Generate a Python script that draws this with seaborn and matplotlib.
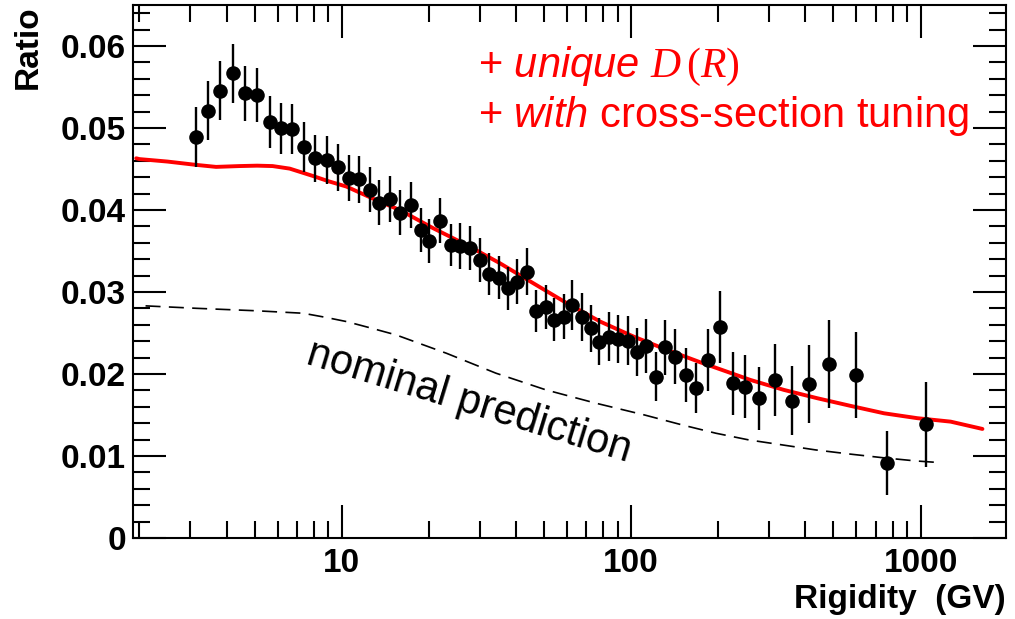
import numpy as np
import pandas as pd
import matplotlib
matplotlib.use('Agg')
import matplotlib.pyplot as plt
import seaborn as sns
from matplotlib.ticker import FixedLocator, NullFormatter, LogLocator, MultipleLocator

# measured data points (rigidity in GV, ratio, symmetric error)
rigidity = [3.13, 3.46, 3.80, 4.21, 4.62, 5.10, 5.63, 6.18, 6.75, 7.39,
            8.11, 8.92, 9.68, 10.57, 11.5, 12.56, 13.45, 14.66, 15.86, 17.3,
            18.76, 20.0, 21.9, 23.8, 25.6, 27.7, 30.0, 32.3, 34.9, 37.6,
            40.4, 43.7, 46.9, 50.7, 54.2, 58.4, 62.7, 67.7, 72.7, 77.7,
            83.9, 90.1, 97.4, 104.7, 112.7, 121.7, 131.2, 141.3, 154.6, 167,
            184, 203, 224, 248, 277, 313, 358, 411, 484, 596,
            767, 1040]
ratio = [0.04887, 0.0521, 0.05455, 0.05667, 0.05423, 0.05399, 0.05073, 0.04996, 0.04988, 0.04772,
         0.0463, 0.0461, 0.0452, 0.0439, 0.04374, 0.04244, 0.0409, 0.04134, 0.03967, 0.04057,
         0.03756, 0.03622, 0.0387, 0.03573, 0.03561, 0.03533, 0.0339, 0.0322, 0.03175, 0.03045,
         0.03126, 0.03244, 0.02768, 0.02821, 0.02659, 0.02699, 0.02841, 0.02691, 0.02557, 0.02394,
         0.02455, 0.02423, 0.02406, 0.02264, 0.02341, 0.01967, 0.02326, 0.02211, 0.01988, 0.01833,
         0.02171, 0.0257, 0.01886, 0.01846, 0.01703, 0.01927, 0.01675, 0.01874, 0.02118, 0.01988,
         0.00911, 0.01387]
ratio_err = [0.00366, 0.00362, 0.00356, 0.00358, 0.00333, 0.00331, 0.00313, 0.00313, 0.00307, 0.00305,
             0.00289, 0.00293, 0.00289, 0.00278, 0.00285, 0.00274, 0.00274, 0.00285, 0.00278, 0.00283,
             0.0027, 0.00264, 0.00278, 0.0026, 0.00278, 0.0027, 0.00268, 0.0026, 0.00258, 0.00264,
             0.00274, 0.00287, 0.00258, 0.00268, 0.00262, 0.0027, 0.003, 0.0029, 0.00289, 0.0029,
             0.003, 0.00295, 0.003, 0.00295, 0.00325, 0.003, 0.00335, 0.00337, 0.00329, 0.00305,
             0.00376, 0.00437, 0.00382, 0.0038, 0.00382, 0.00441, 0.00421, 0.00478, 0.00535, 0.00526,
             0.00388, 0.00518]

# tuned model (red)
tuned_r = [1.95, 2.0, 2.5, 3.13, 3.68, 4.43, 5.1, 5.77, 6.61, 7.94, 9.0, 10.38, 13.52, 15.86, 20.7,
           27.0, 35.2, 45.9, 60.0, 78.2, 102, 133, 173, 198, 258, 337, 439, 573, 747, 975, 1270, 1635]
tuned_ratio = [0.0463, 0.0462, 0.0459, 0.0455, 0.04525, 0.04535, 0.0454, 0.04535, 0.04504, 0.04415,
               0.0435, 0.04285, 0.04101, 0.0400, 0.03777, 0.03573, 0.0335, 0.03106, 0.02862, 0.02638,
               0.02455, 0.02293, 0.02143, 0.0207, 0.01927, 0.01805, 0.01704, 0.0161, 0.0152, 0.0146,
               0.01418, 0.01329]

# nominal prediction (dashed)
nominal_r = [2.1, 3.16, 5.08, 7.36, 8.8, 10.4, 12.6, 15.4, 23.0, 34.1, 50.8, 75.5, 111, 150, 196,
             255, 333, 434, 565, 736, 960, 1170]
nominal_ratio = [0.0283, 0.0280, 0.0277, 0.0274, 0.0269, 0.02638, 0.0256, 0.02476, 0.02252, 0.02009,
                 0.01805, 0.01643, 0.0150, 0.01378, 0.01277, 0.01195, 0.01134, 0.01073, 0.01024,
                 0.00979, 0.00939, 0.00918]

x_major = [10, 100, 1000]
x_labels = ['10', '100', '1000']
y_major = [0, 0.01, 0.02, 0.03, 0.04, 0.05, 0.06]
y_labels = ['0', '0.01', '0.02', '0.03', '0.04', '0.05', '0.06']

sns.set_style('ticks')
plt.rcParams['font.family'] = ['Liberation Sans', 'DejaVu Sans']
plt.rcParams['text.color'] = 'black'
plt.rcParams['axes.labelcolor'] = 'black'
plt.rcParams['xtick.color'] = 'black'
plt.rcParams['ytick.color'] = 'black'
plt.rcParams['mathtext.fontset'] = 'custom'
plt.rcParams['mathtext.rm'] = 'Liberation Serif'
plt.rcParams['mathtext.it'] = 'Liberation Sans:italic'
plt.rcParams['mathtext.cal'] = 'Liberation Serif:italic'

fig = plt.figure(figsize=(10.15, 6.19), dpi=100)
ax = fig.add_axes([0.131, 0.131, 0.860, 0.861])

tuned_df = pd.DataFrame({'R': tuned_r, 'ratio': tuned_ratio})
nominal_df = pd.DataFrame({'R': nominal_r, 'ratio': nominal_ratio})

sns.lineplot(data=tuned_df, x='R', y='ratio', ax=ax, color='red', lw=2.8, sort=False, zorder=2)
sns.lineplot(data=nominal_df, x='R', y='ratio', ax=ax, color='black', lw=1.2,
             linestyle=(0, (9, 5)), sort=False, zorder=2)

ax.errorbar(rigidity, ratio, yerr=ratio_err, fmt='none', ecolor='black', elinewidth=1.7, zorder=3)
sns.scatterplot(x=rigidity, y=ratio, ax=ax, color='black', s=110, linewidth=0, zorder=4)

ax.set_xscale('log')
ax.set_xlim(1.9, 1970)
ax.set_ylim(0, 0.065)

ax.xaxis.set_major_locator(FixedLocator(x_major))
ax.set_xticklabels(x_labels)
ax.xaxis.set_minor_locator(LogLocator(base=10, subs=np.arange(2, 10)))
ax.xaxis.set_minor_formatter(NullFormatter())
ax.yaxis.set_major_locator(FixedLocator(y_major))
ax.set_yticklabels(y_labels)
ax.yaxis.set_minor_locator(MultipleLocator(0.002))

ax.tick_params(which='both', direction='in', top=True, right=True, width=1.5, color='black',
               labelcolor='black')
ax.tick_params(which='major', length=23.5, labelsize=24)
ax.tick_params(which='minor', length=12)
ax.tick_params(axis='x', pad=7)
ax.tick_params(axis='y', pad=5)
for lab in ax.get_xticklabels() + ax.get_yticklabels():
    lab.set_fontweight('bold')
for sp in ax.spines.values():
    sp.set_linewidth(1.5)
    sp.set_color('black')

ax.set_xlabel('Rigidity  (GV)', fontsize=24, fontweight='bold', loc='right', color='black')
ax.xaxis.set_label_coords(1.0, -0.086)
ax.set_ylabel('Ratio', fontsize=24, fontweight='bold', loc='top', va='center', color='black')
ax.yaxis.set_label_coords(-0.12, 1.0)

ax.text(0.395, 0.865, r'+ $\mathit{unique}$ $\mathcal{D}\,(\mathcal{R})$', transform=ax.transAxes,
        color='red', fontsize=30, ha='left', va='baseline')
ax.text(0.395, 0.771, r'+ $\mathit{with}$ cross-section tuning', transform=ax.transAxes,
        color='red', fontsize=30, ha='left', va='baseline')
ax.text(7.45, 0.02134, 'nominal prediction', color='black', fontsize=30, rotation=-17,
        rotation_mode='anchor', ha='left', va='baseline')

plt.savefig('out.png', dpi=100)
